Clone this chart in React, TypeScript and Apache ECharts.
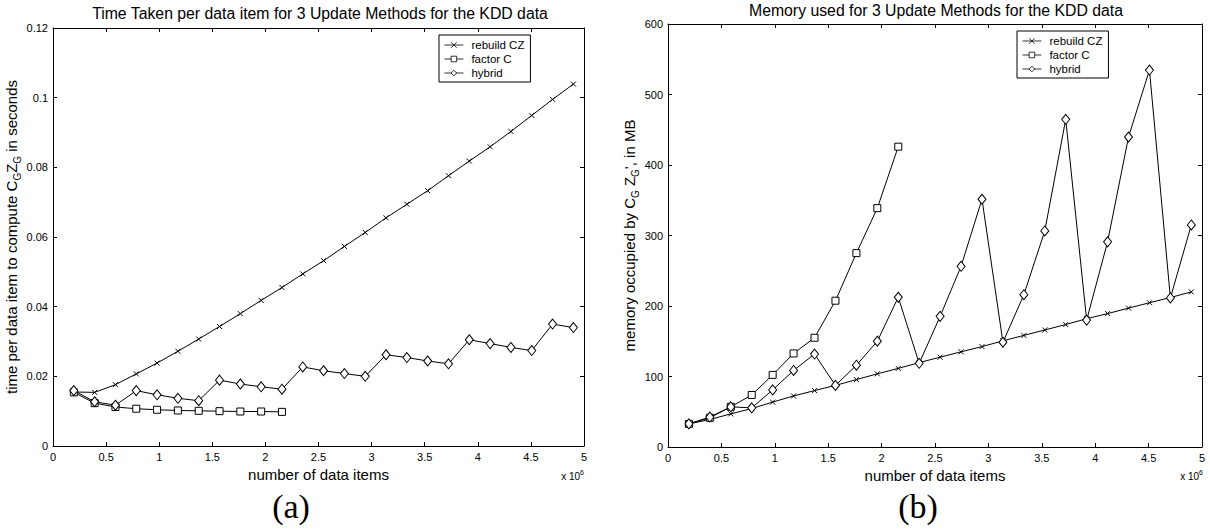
import React, { useEffect, useRef } from "react";
import * as echarts from "echarts";

// number of data items (x 10^6)
const xItems = [0.196, 0.392, 0.588, 0.784, 0.98, 1.176, 1.372, 1.568, 1.764, 1.96, 2.156, 2.352, 2.548, 2.744, 2.94, 3.136, 3.332, 3.528, 3.724, 3.92, 4.116, 4.312, 4.508, 4.704, 4.9];

// (a) time per data item, seconds
const timeRebuild = [0.0155, 0.0154, 0.0176, 0.0207, 0.0238, 0.0272, 0.0307, 0.0343, 0.038, 0.0418, 0.0455, 0.0494, 0.0532, 0.0573, 0.0613, 0.0655, 0.0694, 0.0733, 0.0776, 0.0818, 0.0859, 0.0903, 0.0949, 0.0995, 0.1039];
const timeFactor = [0.0154, 0.0123, 0.0112, 0.0107, 0.0104, 0.0102, 0.0101, 0.01, 0.0099, 0.0099, 0.0098];
const timeHybrid = [0.0159, 0.0127, 0.0117, 0.0159, 0.0147, 0.0137, 0.013, 0.0189, 0.0178, 0.017, 0.0163, 0.0227, 0.0216, 0.0208, 0.02, 0.0262, 0.0254, 0.0244, 0.0236, 0.0305, 0.0294, 0.0283, 0.0274, 0.035, 0.034];

// (b) memory, MB
const memRebuild = [32.8, 39, 47, 54.5, 63.7, 72.4, 80, 87.4, 95.6, 103.8, 111.5, 119.7, 127.4, 135, 142.4, 150.6, 158.3, 166, 173.7, 182, 189.2, 197, 204.6, 212, 220];
const memFactor = [32.8, 41.5, 57, 73.8, 102.3, 132.7, 155, 207.5, 275, 338.8, 426];
const memHybrid = [32.8, 42.5, 57, 55.5, 81, 108.6, 131.8, 87.4, 116, 150, 212.4, 118.7, 185.3, 256.3, 351.4, 148.6, 216, 306.5, 464.8, 180, 291, 439.7, 534.7, 211.4, 315];

const seriesNames = ["rebuild CZ", "factor C", "hybrid"];
const xTickLabels = ["0", "0.5", "1", "1.5", "2", "2.5", "3", "3.5", "4", "4.5", "5"];

const FONT = "'Liberation Sans', Arial, Helvetica, sans-serif";
const SERIF = "'Liberation Serif', 'DejaVu Serif', serif";

const CROSS = "path://M0,0L10,10M10,0L0,10";

function pairs(ys: number[]) {
  return ys.map((y, i) => [xItems[i], y]);
}

function mkSeries(name: string, ys: number[], symbol: string, size: any, axis: number) {
  return {
    type: "line",
    name,
    xAxisIndex: axis * 2,
    yAxisIndex: axis * 2,
    data: pairs(ys),
    symbol,
    symbolSize: size,
    showSymbol: true,
    lineStyle: { color: "#000", width: 1 },
    itemStyle: { color: "#fff", borderColor: "#000", borderWidth: 1 },
    emphasis: { disabled: true },
  };
}

function mkX(grid: number, top: boolean, nameGap: number) {
  return {
    type: "value",
    gridIndex: grid,
    position: top ? "top" : "bottom",
    min: 0,
    max: 5,
    interval: 0.5,
    axisLine: { onZero: false, lineStyle: { color: "#000", width: 1 } },
    axisTick: { inside: true, length: 4, lineStyle: { color: "#000" } },
    axisLabel: top
      ? { show: false }
      : {
          show: true,
          color: "#000",
          fontSize: 11,
          fontFamily: FONT,
          margin: 5,
          showMinLabel: true,
          showMaxLabel: true,
          formatter: (v: number) => xTickLabels[Math.round(v * 2)] ?? String(v),
        },
    splitLine: { show: false },
    name: top ? "" : "number of data items",
    nameLocation: "middle",
    nameGap,
    nameTextStyle: { color: "#000", fontSize: 15, fontFamily: FONT },
  };
}

function mkY(grid: number, right: boolean, max: number, interval: number, name: string, nameGap: number) {
  return {
    type: "value",
    gridIndex: grid,
    position: right ? "right" : "left",
    min: 0,
    max,
    interval,
    axisLine: { onZero: false, lineStyle: { color: "#000", width: 1 } },
    axisTick: { inside: true, length: 4, lineStyle: { color: "#000" } },
    axisLabel: right
      ? { show: false }
      : { show: true, color: "#000", fontSize: 11, fontFamily: FONT, margin: 5 },
    splitLine: { show: false },
    name: right ? "" : name,
    nameLocation: "middle",
    nameRotate: 90,
    nameGap,
    nameTextStyle: {
      color: "#000",
      fontFamily: FONT,
      rich: {
        t: { fontSize: 15, fontFamily: FONT, color: "#000", lineHeight: 22, verticalAlign: "middle" },
        s: { fontSize: 10, fontFamily: FONT, color: "#000", lineHeight: 10, verticalAlign: "bottom" },
      },
    },
  };
}

function mkLegend(left: number, top: number) {
  return {
    orient: "vertical",
    left,
    top,
    data: seriesNames,
    itemWidth: 19,
    itemHeight: 7,
    itemGap: 2,
    padding: [4, 6, 3, 5],
    backgroundColor: "#fff",
    borderColor: "#000",
    borderWidth: 1,
    borderRadius: 0,
    selectedMode: false,
    lineStyle: { width: 0.8 },
    itemStyle: { borderWidth: 0.8 },
    textStyle: { color: "#000", fontSize: 11.5, fontFamily: FONT, lineHeight: 11.5, padding: [0, 0, 0, 3] },
  };
}

function sciLabel(x: number) {
  return {
    type: "text",
    x,
    y: 475,
    style: {
      text: "{a|x 10}{b|6}",
      align: "right",
      verticalAlign: "middle",
      rich: {
        a: { fontSize: 10, fontFamily: FONT, fill: "#000", lineHeight: 13, verticalAlign: "bottom" },
        b: { fontSize: 7, fontFamily: FONT, fill: "#000", lineHeight: 7, verticalAlign: "top" },
      },
    },
  };
}

export default function App() {
  const ref = useRef<HTMLDivElement>(null);
  useEffect(() => {
    const chart = echarts.init(ref.current!, null, { renderer: "svg" });
    const option: any = {
      animation: false,
      backgroundColor: "#fff",
      grid: [
        { left: 53, top: 28, width: 531, height: 418, containLabel: false },
        { left: 668, top: 24, width: 534, height: 423, containLabel: false },
      ],
      xAxis: [mkX(0, false, 18), mkX(0, true, 0), mkX(1, false, 18), mkX(1, true, 0)],
      yAxis: [
        mkY(0, false, 0.12, 0.02, "{t|time per data item to compute C}{s|G}{t|Z}{s|G}{t| in seconds}", 27),
        mkY(0, true, 0.12, 0.02, "", 0),
        mkY(1, false, 600, 100, "{t|memory occupied by C}{s|G}{t| Z}{s|G}{t|', in MB}", 22),
        mkY(1, true, 600, 100, "", 0),
      ],
      legend: [mkLegend(439, 35), mkLegend(1017, 31)],
      series: [
        mkSeries("rebuild CZ", timeRebuild, CROSS, 5, 0),
        mkSeries("factor C", timeFactor, "rect", 7, 0),
        mkSeries("hybrid", timeHybrid, "diamond", [8, 10], 0),
        mkSeries("rebuild CZ", memRebuild, CROSS, 5, 1),
        mkSeries("factor C", memFactor, "rect", 7, 1),
        mkSeries("hybrid", memHybrid, "diamond", [8, 10], 1),
      ],
      graphic: [
        {
          type: "text",
          x: 320,
          y: 13,
          style: {
            text: "Time Taken per data item for 3 Update Methods for the KDD data",
            font: `15.8px ${FONT}`,
            fill: "#000",
            align: "center",
            verticalAlign: "middle",
          },
        },
        {
          type: "text",
          x: 936,
          y: 10,
          style: {
            text: "Memory used for 3 Update Methods for the KDD data",
            font: `15.8px ${FONT}`,
            fill: "#000",
            align: "center",
            verticalAlign: "middle",
          },
        },
        sciLabel(584),
        sciLabel(1203),
        {
          type: "text",
          x: 291,
          y: 506,
          style: { text: "(a)", font: `34px ${SERIF}`, fill: "#000", align: "center", verticalAlign: "middle" },
        },
        {
          type: "text",
          x: 918,
          y: 506,
          style: { text: "(b)", font: `34px ${SERIF}`, fill: "#000", align: "center", verticalAlign: "middle" },
        },
      ],
    };
    chart.setOption(option);
    return () => chart.dispose();
  }, []);
  return (
    <div
      ref={ref}
      style={{ position: "fixed", left: 0, top: 0, width: 1210, height: 531, background: "#fff" }}
    />
  );
}
